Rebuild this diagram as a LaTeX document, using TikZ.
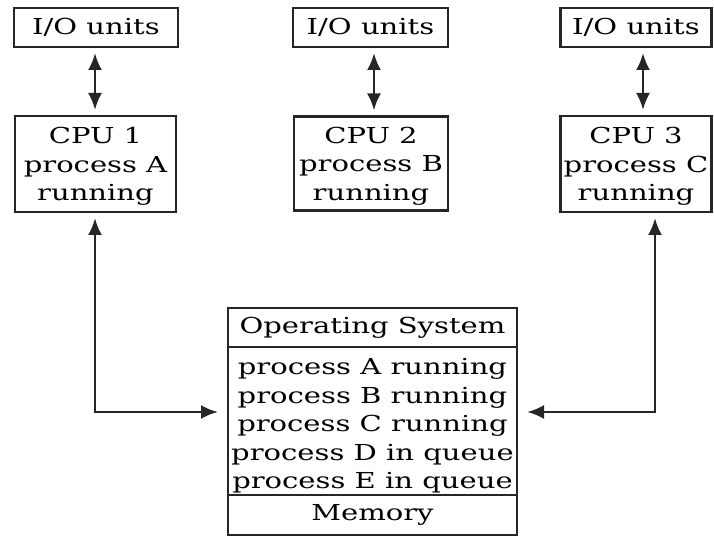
\documentclass[tikz,border=0pt]{standalone}
\usepackage{fontspec}
\setmainfont{DejaVu Serif}[FakeStretch=1.32]
\usetikzlibrary{arrows.meta}
\begin{document}
\begin{tikzpicture}[x=1pt,y=-1pt,
  box/.style={draw=black!85, line width=2.4pt, inner sep=0pt, outer sep=0pt, align=center,
    font=\fontsize{22}{28.5}\selectfont, text=black},
  conn/.style={line width=2.6pt, draw=black!85, {Latex[length=17pt,width=14pt]}-{Latex[length=17pt,width=14pt]}}
]
\useasboundingbox (0,0) rectangle (714,537);
% I/O units
\node[box, minimum width=164pt, minimum height=39pt] (io1) at (96,27.5) {I/O units};
\node[box, minimum width=155pt, minimum height=39pt] (io2) at (370.5,27.5) {I/O units};
\node[box, minimum width=151pt, minimum height=39pt] (io3) at (636,27.5) {I/O units};
% CPUs
\node[box, minimum width=161pt, minimum height=96pt] (cpu1) at (95.5,164) {\rule{0pt}{21pt}CPU 1\\process A\\running};
\node[box, minimum width=154pt, minimum height=94pt] (cpu2) at (371,163.5) {\rule{0pt}{21pt}CPU 2\\process B\\running};
\node[box, minimum width=151pt, minimum height=96pt] (cpu3) at (636,164) {\rule{0pt}{21pt}CPU 3\\process C\\running};
% Operating system / memory
\node[box, minimum width=289pt, minimum height=39pt] (ostitle) at (372.5,327.5) {Operating System};
\node[box, minimum width=289pt, minimum height=148pt, anchor=north] (oslist) at (ostitle.south)
  {\rule{0pt}{26pt}process A running\\process B running\\process C running\\process D in queue\\process E in queue};
\node[box, minimum width=289pt, minimum height=40pt, anchor=north] (mem) at (oslist.south) {Memory};
% I/O <-> CPU
\draw[conn] ([xshift=-1pt,yshift=-6pt]io1.south) -- ([xshift=-0.5pt,yshift=6pt]cpu1.north);
\draw[conn] ([xshift=3.5pt,yshift=-6pt]io2.south) -- ([xshift=3pt,yshift=6pt]cpu2.north);
\draw[conn] ([xshift=7pt,yshift=-6pt]io3.south) -- ([xshift=7pt,yshift=6pt]cpu3.north);
% CPU <-> OS
\draw[conn] ([xshift=-0.5pt,yshift=-6pt]cpu1.south) |- ([xshift=-10pt,yshift=9pt]oslist.west);
\draw[conn] ([xshift=19pt,yshift=-6pt]cpu3.south) |- ([xshift=10pt,yshift=9pt]oslist.east);
\end{tikzpicture}
\end{document}
